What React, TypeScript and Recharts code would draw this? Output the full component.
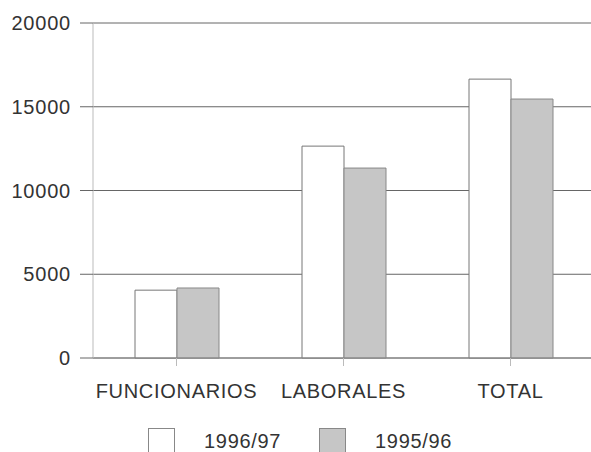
import React from "react";
import {
  BarChart,
  Bar,
  XAxis,
  YAxis,
  CartesianGrid,
  Legend
} from "recharts";

const categories = ["FUNCIONARIOS", "LABORALES", "TOTAL"];
const seriesNames = ["1996/97", "1995/96"];
const values9697 = [4050, 12650, 16650];
const values9596 = [4180, 11340, 15460];
const yTicks = [0, 5000, 10000, 15000, 20000];

const data = categories.map((name, i) => ({
  name,
  [seriesNames[0]]: values9697[i],
  [seriesNames[1]]: values9596[i]
}));

const FONT = "'Liberation Sans', Arial, sans-serif";

const LegendContent = (props: any) => {
  const items = [...(props.payload || [])].sort(
    (a: any, b: any) => seriesNames.indexOf(a.value) - seriesNames.indexOf(b.value)
  );
  const lefts = [148, 319];
  return (
    <div style={{ position: "relative", width: 591, height: 24, fontFamily: FONT }}>
      {items.map((item: any, i: number) => (
        <React.Fragment key={item.value}>
          <div
            style={{
              position: "absolute",
              left: lefts[i],
              top: 0,
              width: 27,
              height: 26,
              boxSizing: "border-box",
              background: item.payload?.fill ?? item.color,
              border: "1px solid #888"
            }}
          />
          <span
            style={{
              position: "absolute",
              left: lefts[i] + 56,
              top: 1,
              fontSize: 20,
              lineHeight: "24px",
              color: "#333",
              letterSpacing: 0.7
            }}
          >
            {item.value}
          </span>
        </React.Fragment>
      ))}
    </div>
  );
};

const App: React.FC = () => {
  return (
    <div style={{ position: "absolute", left: 0, top: 0, background: "#fff" }}>
      <BarChart
        width={591}
        height={452}
        data={data}
        margin={{ top: 23, right: -3, left: 0, bottom: 0 }}
        barGap={0}
        barSize={42}
      >
        <CartesianGrid vertical={false} stroke="#666" />
        <XAxis
          dataKey="name"
          height={70}
          axisLine={{ stroke: "#888" }}
          tickLine={{ stroke: "#bbb" }}
          tickSize={8}
          tickMargin={18}
          tick={{ fill: "#333", fontSize: 20, fontFamily: FONT, letterSpacing: 0.7 }}
        />
        <YAxis
          width={93}
          domain={[0, 20000]}
          ticks={yTicks}
          axisLine={{ stroke: "#bbb" }}
          tickLine={{ stroke: "#666" }}
          tickSize={13}
          tickMargin={9}
          tick={{ fill: "#333", fontSize: 20, fontFamily: FONT, letterSpacing: 0.8 }}
        />
        <Legend verticalAlign="bottom" align="left" content={LegendContent} />
        <Bar dataKey={seriesNames[0]} fill="#ffffff" stroke="#777" isAnimationActive={false} />
        <Bar dataKey={seriesNames[1]} fill="#c6c6c6" stroke="#888" isAnimationActive={false} />
      </BarChart>
    </div>
  );
};

export default App;
